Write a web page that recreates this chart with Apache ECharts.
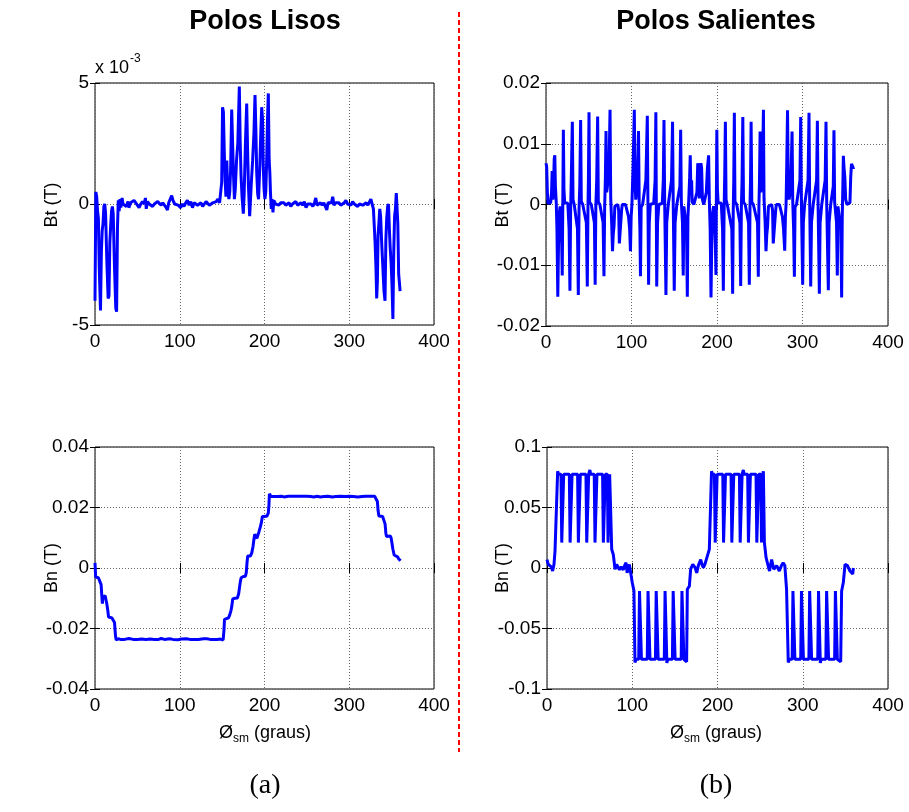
<!DOCTYPE html>
<html><head><meta charset="utf-8">
<script src="https://cdn.jsdelivr.net/npm/echarts@6/dist/echarts.min.js"></script>
<style>html,body{margin:0;padding:0;background:#fff}#c{width:909px;height:812px}</style>
</head><body><div id="c"></div>
<script>
// ---------- DATA ----------
const xTicks = [0, 100, 200, 300, 400];
const titles = ['Polos Lisos', 'Polos Salientes'];
const panelTags = ['(a)', '(b)'];
const yNames = ['Bt (T)', 'Bt (T)', 'Bn (T)', 'Bn (T)'];
const ytTL = [-5, 0, 5];            // x 10^-3
const ytTR = [-0.02, -0.01, 0, 0.01, 0.02];
const ytBL = [-0.04, -0.02, 0, 0.02, 0.04];
const ytBR = [-0.1, -0.05, 0, 0.05, 0.1];

// Bt, polos lisos (units of 10^-3 T)
const btLisos = [
[0,-4.0],[1,0.5],[2,0.3],[3,-0.3],[4,-0.6],[5,-2.6],[6.5,-4.4],[7.5,-2.0],[8.5,-1.1],[9.5,-0.8],[10.5,-0.1],[11.5,0.0],[12.5,-0.4],[14,-2.4],[15.5,-3.9],[16.5,-3.8],[17.5,-1.6],[18.5,-0.9],[19.5,-0.3],[20.5,-0.1],[21.5,-0.4],[23,-2.6],[24.5,-4.3],[25.5,-4.45],[26.5,-1.0],[27.5,0.15],[28.5,-0.3],[29.5,0.2],[30.5,-0.15],[32,0.25],[33,0.0],[35,0.05],[37,-0.1],[39,0.1],[40,-0.15],[42,0.05],[44,0.0],[46,0.15],[48,0.1],[50,-0.05],[52,-0.15],[54,0.0],[56,0.1],[58,0.0],[59.5,0.25],[60.5,-0.2],[62,0.1],[64,0.0],[66,0.05],[68,-0.1],[70,0.0],[72,-0.05],[74,0.1],[76,0.05],[78,-0.05],[80,0.05],[82,0.0],[84,-0.15],[85.5,-0.25],[87,0.05],[89,0.1],[90.5,0.35],[92,0.15],[94,0.0],[96,0.05],[98,-0.05],[100,0.0],[101,-0.15],[103,0.0],[105,-0.1],[107,0.05],[109,0.15],[111,-0.05],[113,0.1],[115,-0.15],[117,0.05],[119,0.1],[121,-0.05],[123,0.0],[125,0.05],[127,-0.1],[129,0.0],[131,0.1],[133,0.05],[135,-0.05],[137,0.0],[139,0.05],[141,0.0],[143,0.1],[145,0.2],[147,0.05],[148.5,0.1],[149.5,0.9],[150.5,4.0],[151.5,3.8],[152.5,2.2],[153.5,1.0],[154.5,0.3],[155.5,1.8],[156.5,0.6],[158,0.2],[159,0.5],[160,1.4],[161.3,3.9],[162.3,2.6],[163.3,1.3],[164.5,0.2],[165.5,0.6],[167,1.8],[168.5,2.5],[170.3,4.85],[171.3,2.6],[172.3,1.2],[173.5,0.3],[175,-0.4],[176,0.4],[177.5,2.5],[179,4.15],[180,2.3],[181,0.8],[182.5,-0.5],[183.5,0.2],[184.5,0.9],[186,1.8],[187.5,2.9],[188.8,4.5],[189.8,3.1],[190.8,1.3],[192,0.4],[193,0.2],[194.5,1.6],[195.7,3.0],[196.7,4.0],[197.7,3.5],[198.5,1.6],[199.5,0.6],[200.5,0.2],[201.5,0.5],[202.5,1.7],[203.5,3.4],[204.5,4.57],[205.5,1.8],[206.3,1.3],[207,0.5],[208,-0.2],[209,0.2],[210,-0.35],[211,0.15],[213,0.0],[215,0.05],[217,-0.05],[219,0.05],[221,0.0],[223,0.05],[225,-0.05],[227,0.0],[229,0.05],[231,-0.1],[233,0.0],[235,0.05],[237,0.1],[239,-0.05],[241,0.0],[243,0.05],[245,-0.05],[247,0.1],[249,-0.15],[251,0.0],[253,0.05],[255,0.0],[257,-0.1],[259,0.05],[260.5,0.25],[262,-0.05],[264,0.0],[266,0.05],[268,-0.05],[270,0.05],[272,0.0],[273.5,-0.25],[275,0.05],[277,0.0],[279,0.05],[280.5,0.3],[282,-0.05],[284,0.05],[286,0.0],[288,0.05],[290,-0.05],[292,0.0],[294,0.05],[296,0.15],[298,0.0],[300,0.05],[302,-0.05],[304,0.1],[306,0.0],[308,0.05],[310,-0.1],[312,0.0],[314,0.05],[316,-0.05],[318,0.0],[320,0.05],[322,-0.05],[324,0.0],[325.5,0.2],[327,0.0],[328.5,-0.2],[329.5,-0.9],[330.5,-1.6],[331.5,-2.6],[332.4,-3.9],[333.2,-3.2],[334,-1.3],[335,-0.8],[336,-0.2],[337,-0.5],[338,-1.4],[339.5,-2.5],[341,-3.6],[342.2,-4.0],[343.2,-1.5],[344.2,-0.6],[345.3,-0.1],[346.3,0.0],[347.3,-1.0],[348.3,-1.8],[349.5,-2.5],[350.5,-3.4],[351.5,-4.75],[352.5,-2.0],[353.5,-0.5],[354.5,-0.2],[355.5,0.45],[356.5,0.4],[357.3,-0.8],[358.3,-2.9],[359.3,-3.3],[360,-3.6]
];

// Bt, polos salientes (T)
const btSal = [
[0,0.0068],[0.8,0.0062],[1.6,0.002],[2.5,0.0002],[4,0],[5.5,0.0003],[6.5,0.002],[7.2,0.0055],[8,0.0008],[8.8,0.003],[9.6,0.0075],[10.3,0.0081],[11,0.003],[12,0.0003],[12.8,-0.004],[13.8,-0.0152],[14.6,-0.007],[15.5,-0.0015],[16.5,-0.0003],[17.5,-0.001],[18.3,-0.006],[19,-0.0117],[19.6,-0.0005],[20.3,0.0123],[21,0.0025],[21.8,0.0003],[23.5,0],[25.5,0.0002],[27,-0.004],[28,-0.0142],[28.8,-0.001],[29.6,0.0045],[30.8,0.0136],[31.6,0.0008],[33,0],[35,0.0002],[36.8,-0.004],[37.8,-0.0149],[38.6,-0.001],[39.5,0.003],[40.5,0.0139],[41.3,0.0005],[43,0],[45,0.0002],[47.2,-0.003],[48.3,-0.0135],[49.1,-0.0005],[49.6,0.004],[50.3,0.0152],[51,0.0004],[53,0],[55,0.0002],[56.6,-0.003],[57.5,-0.0132],[58.3,-0.0003],[59.3,0.004],[60.4,0.0145],[61.2,0.0004],[63,0],[65,0.0002],[66.8,-0.003],[67.8,-0.0118],[68.6,-0.0004],[69.4,0.004],[70.2,0.0121],[71,0.002],[72.2,0.0018],[73.6,0.005],[74.9,0.0156],[75.7,0.001],[76.8,-0.003],[77.8,-0.0077],[78.6,-0.005],[79.6,-0.0035],[80.5,-0.0003],[82,0],[84,0],[85,-0.001],[85.8,-0.0064],[87.6,-0.0064],[88.4,-0.001],[89.2,0],[91,0],[93,0],[95,0],[96.5,-0.002],[97.8,-0.004],[98.8,-0.0077],[99.6,-0.002],[100.5,0],[101.8,0.006],[103.3,0.0156],[104,0.004],[105,0.0008],[106,0.002],[107.2,0.006],[108.2,0.0121],[109,0.0005],[109.8,-0.004],[110.5,-0.0118],[111.3,-0.0004],[113,0],[115,0.0002],[116.8,0.004],[118.5,0.0146],[119.2,0.0005],[120,-0.0132],[120.8,-0.003],[122,0],[124,0],[126,0.0002],[127.6,0.004],[128.5,0.0152],[129,0.0003],[129.5,-0.0135],[130.5,-0.003],[132,0],[134,0],[136,0.0002],[137.2,0.004],[138,0.0139],[138.8,0.0003],[140.3,-0.0149],[141.2,-0.003],[143,0],[145,0],[146.8,0.004],[148,0.0136],[148.8,0.0004],[150,-0.0142],[151,-0.003],[153,0],[155,0],[156.6,0.003],[157.5,0.0123],[158.3,0.0004],[159.6,-0.003],[160.5,-0.0117],[161.3,-0.0003],[162.5,-0.0005],[164.3,-0.004],[165.3,-0.0152],[166,-0.002],[167,0.0008],[168,0.0045],[168.7,0.0081],[169.4,0.0025],[170.3,0.004],[171,0.0004],[173,0],[175,0.0002],[176.5,0.002],[177.5,0.0068],[178.5,0.0066],[179.3,0.001],[180.3,0.004],[181.2,0.0068],[182,0.006],[183,0.0008],[184.5,0],[186,0.0003],[187.5,0.002],[188.8,0.006],[190.2,0.0081],[191,0.0008],[192,-0.004],[193,-0.0153],[193.8,-0.007],[194.8,-0.0015],[196,-0.0003],[197.2,-0.001],[198,-0.006],[198.8,-0.0116],[199.2,-0.0005],[199.8,0.0123],[200.5,0.0025],[201.3,0.0003],[203,0],[205,0.0002],[206.5,-0.004],[207.4,-0.0142],[208.3,-0.001],[209,0.0045],[209.8,0.0136],[210.6,0.0008],[212,0],[214,0.0002],[217.3,-0.004],[218.3,-0.0147],[219,-0.001],[219.6,0.004],[220.3,0.0151],[221,0.0005],[223,0],[225,0.0002],[226.8,-0.003],[227.7,-0.0134],[228.5,-0.0005],[229.3,0.004],[230.2,0.0144],[231,0.0004],[233,0],[235,0.0002],[236.9,-0.003],[237.8,-0.0132],[238.6,-0.0003],[239.2,0.004],[239.9,0.0136],[240.7,0.0004],[242.5,0],[244.5,0.0002],[247.4,-0.003],[248.3,-0.0119],[249,-0.0004],[249.7,0.004],[250.4,0.012],[251.2,0.002],[252.5,0.0018],[253.2,0.005],[254.3,0.0156],[255,0.001],[256.3,-0.003],[257.3,-0.0077],[258.2,-0.005],[259.2,-0.0035],[260.2,-0.0003],[262,0],[264,0],[265,-0.001],[265.8,-0.0064],[267.8,-0.0064],[268.6,-0.001],[269.4,0],[271,0],[273,0],[275,0],[276.5,-0.002],[277.8,-0.004],[279.2,-0.0076],[280,-0.002],[280.8,0],[281.5,0.006],[282.5,0.0155],[283.3,0.004],[284.4,0.0008],[285.5,0.002],[286.8,0.006],[287.8,0.012],[288.6,0.0005],[289.6,-0.004],[290.5,-0.0119],[291.3,-0.0004],[293,0],[295,0.0002],[297,0.004],[297.9,0.0144],[298.7,0.0005],[300.2,-0.0132],[301,-0.003],[302.5,0],[304.5,0],[306.5,0.004],[307.6,0.0151],[308.4,0.0005],[309.6,-0.0135],[310.5,-0.003],[312.5,0],[314.5,0],[316.5,0.004],[317.4,0.0138],[318.2,0.0004],[319.7,-0.0147],[320.6,-0.003],[322.5,0],[324.5,0],[326.5,0.004],[327.5,0.0136],[328.3,0.0004],[330.2,-0.0141],[331.1,-0.003],[333,0],[335,0],[336,0.003],[336.8,0.0122],[337.6,0.0004],[339.8,-0.003],[340.7,-0.0117],[341.5,-0.0003],[342.8,-0.0005],[344.8,-0.004],[345.8,-0.0153],[346.5,-0.002],[347.2,0.003],[347.8,0.008],[348.6,0.006],[349.5,0.0045],[350.5,0.0008],[352,0],[354,0],[355.5,0.0003],[356.4,0.0045],[357.3,0.0067],[358.5,0.0065],[359.5,0.006],[360,0.0061]
];

// Bn, polos lisos (T)
const bnLisos = [
[0,0.0017],[0.8,-0.003],[2,-0.0033],[4,-0.0032],[6,-0.0035],[7.2,-0.0055],[8,-0.009],[8.7,-0.0118],[9.4,-0.0095],[10.5,-0.0095],[12,-0.0092],[13,-0.0096],[14,-0.012],[15,-0.0138],[16,-0.0162],[17.5,-0.0166],[20,-0.0165],[21.8,-0.0166],[23,-0.018],[24.2,-0.0225],[25,-0.0238],[26.4,-0.0242],[27.5,-0.0234],[30,-0.0236],[35,-0.0236],[40,-0.0233],[45,-0.0236],[50,-0.0236],[55,-0.0235],[60,-0.0236],[65,-0.0235],[70,-0.0236],[75,-0.0236],[78,-0.0233],[82,-0.0236],[88,-0.0234],[92,-0.0236],[98,-0.0237],[102,-0.0235],[108,-0.0234],[112,-0.0236],[118,-0.0236],[122,-0.0236],[128,-0.0234],[132,-0.0234],[136,-0.0236],[140,-0.0236],[144,-0.0236],[148,-0.0235],[151.2,-0.0238],[152.2,-0.0205],[152.8,-0.017],[155,-0.0168],[157.5,-0.0165],[159,-0.0155],[160.5,-0.014],[161.5,-0.0125],[162.5,-0.0102],[165,-0.0100],[168,-0.0099],[169.5,-0.0085],[170.5,-0.0065],[171.5,-0.0045],[172.5,-0.0032],[175,-0.0028],[177.5,-0.0027],[178.5,-0.0015],[179.3,0.0015],[180.2,0.004],[182,0.0037],[183.5,0.004],[185,0.005],[186.5,0.0072],[187.5,0.0095],[188.5,0.0112],[189.5,0.0105],[191,0.0098],[192.5,0.0102],[193.5,0.012],[195,0.0135],[196.3,0.015],[197.5,0.017],[200,0.017],[203,0.0172],[204.5,0.0182],[205.2,0.0205],[205.8,0.0245],[206.8,0.0242],[207.8,0.0236],[210,0.0237],[215,0.0236],[220,0.0237],[223,0.0235],[228,0.0237],[235,0.0237],[240,0.0237],[245,0.0237],[250,0.0237],[255,0.0236],[258,0.0235],[262,0.0237],[266,0.0235],[270,0.0236],[275,0.0237],[280,0.0235],[284,0.0236],[290,0.0237],[295,0.0236],[300,0.0237],[305,0.0236],[310,0.0235],[315,0.0236],[320,0.0237],[325,0.0237],[330,0.0237],[332,0.0241],[333.2,0.022],[334,0.019],[335,0.0172],[337,0.017],[339.5,0.017],[341,0.0167],[342.3,0.0145],[343.2,0.0115],[344,0.0104],[346,0.0108],[348.5,0.0106],[349.5,0.0098],[350.5,0.008],[351.5,0.0062],[353,0.0043],[355,0.0038],[357,0.0037],[358.5,0.003],[360.5,0.0024]
];

// Bn, polos salientes (T)
const bnSal = [
[0,0.007],[1.5,0.003],[3.5,0.0028],[5,0.001],[6.6,-0.0025],[8.2,0.003],[9.4,0.014],[11.3,0.0155],[12.5,0.080],[13.5,0.0775],
[16.4,0.0775],[17.3,0.021],[18.3,0.021],[19.6,0.0775],
[26.2,0.0775],[27.1,0.021],[28.1,0.021],[29.4,0.0775],
[35.9,0.0775],[36.8,0.021],[37.8,0.021],[39.1,0.0775],
[45.7,0.0775],[46.6,0.021],[47.6,0.021],[48.9,0.0775],[50.3,0.081],[51.3,0.0775],
[55.4,0.0775],[56.3,0.021],[57.3,0.021],[58.6,0.0775],
[65.2,0.0775],[66.1,0.021],[67.1,0.021],[68.4,0.0775],
[70.8,0.0775],[71.6,0.021],[72.5,0.021],[73.5,0.0775],[74.7,0.079],
[75.9,0.0155],[77.8,0.011],[79.8,-0.001],[81.7,0.003],[83.5,0.0035],[85,-0.0015],[87,0.001],[89.5,-0.0015],[91,0.002],[92.7,0.0045],[94,-0.004],[96.6,0.003],[98.5,0.0015],[100,-0.012],[102,-0.019],[103.2,-0.078],[104.5,-0.0755],
[107.6,-0.0755],[108.5,-0.019],[109.5,-0.019],[110.8,-0.0755],
[117.6,-0.0755],[118.5,-0.019],[119.5,-0.019],[120.8,-0.0755],
[127.2,-0.0755],[128.1,-0.019],[129.1,-0.019],[130.4,-0.0755],
[137.6,-0.0755],[138.5,-0.019],[139.5,-0.019],[140.6,-0.0785],[141.6,-0.0755],
[147.1,-0.0755],[148,-0.019],[149,-0.019],[150.3,-0.0755],
[157.4,-0.0755],[158.3,-0.019],[159.3,-0.019],[160.6,-0.0755],
[163.8,-0.0775],[164.6,-0.0176],[167,-0.015],[168.5,-0.001],[171,0.003],[173.6,0.0005],[175.6,-0.004],[177.5,0.002],[180.3,0.007],[181.8,0.003],[183.4,0.0003],[185.2,0.003],[187.3,0.0044],[190.4,0.0154],[193,0.080],[194,0.0775],
[196.4,0.0775],[197.3,0.021],[198.3,0.021],[199.6,0.0775],
[206.2,0.0775],[207.1,0.021],[208.1,0.021],[209.4,0.0775],
[215.9,0.0775],[216.8,0.021],[217.8,0.021],[219.1,0.0775],
[225.7,0.0775],[226.6,0.021],[227.6,0.021],[228.9,0.0775],[230.3,0.081],[231.3,0.0775],
[235.4,0.0775],[236.3,0.021],[237.3,0.021],[238.6,0.0775],
[245.2,0.0775],[246.1,0.021],[247.1,0.021],[248.4,0.0775],
[250.8,0.0775],[251.6,0.021],[252.5,0.021],[253.3,0.0775],[253.8,0.080],
[255,0.021],[257,0.0085],[259,0.003],[261,-0.0025],[263.5,0.007],[266,-0.001],[269.4,0.002],[272.5,-0.0025],[275,0.002],[277,0.0044],[279,0.002],[281,-0.0176],[283,-0.078],[284.3,-0.0755],
[287.6,-0.0755],[288.5,-0.019],[289.5,-0.019],[290.8,-0.0755],
[297.6,-0.0755],[298.5,-0.019],[299.5,-0.019],[300.8,-0.0755],
[307.2,-0.0755],[308.1,-0.019],[309.1,-0.019],[310.4,-0.0755],
[317.6,-0.0755],[318.5,-0.019],[319.5,-0.019],[320.6,-0.0785],[321.6,-0.0755],
[327.1,-0.0755],[328,-0.019],[329,-0.019],[330.3,-0.0755],
[337.4,-0.0755],[338.3,-0.019],[339.3,-0.019],[340.6,-0.0755],
[344.5,-0.0775],[345.6,-0.019],[347.6,-0.012],[349.6,0.003],[350.7,0.0044],[352.5,0.002],[355.4,-0.0025],[357.4,-0.001],[358.6,-0.005],[359.4,0.0]
];

// ---------- CHART ----------
const FONT = '"Liberation Sans", Arial, sans-serif';
const panels = [
  {rect:{left:95, top:83, width:339, height:242}, yt:ytTL, data:btLisos},
  {rect:{left:546, top:83, width:342, height:243}, yt:ytTR, data:btSal},
  {rect:{left:95, top:447, width:339, height:242}, yt:ytBL, data:bnLisos},
  {rect:{left:547, top:447, width:341, height:242}, yt:ytBR, data:bnSal}
];
const grid = [], xAxis = [], yAxis = [], series = [];
panels.forEach((p, i) => {
  grid.push(Object.assign({show:true, borderColor:'#000', borderWidth:1, backgroundColor:'#fff', containLabel:false}, p.rect));
  const tick = {show:true, inside:true, length:5, lineStyle:{color:'#000', width:1}};
  const split = {show:true, lineStyle:{type:[1,2], color:'#666', width:1}};
  const xmin = xTicks[0], xmax = xTicks[xTicks.length-1], xint = xTicks[1]-xTicks[0];
  const ymin = p.yt[0], ymax = p.yt[p.yt.length-1], yint = p.yt[1]-p.yt[0];
  xAxis.push({gridIndex:i, type:'value', min:xmin, max:xmax, interval:xint, position:'bottom',
    axisLine:{show:false}, axisTick:tick, splitLine:split,
    axisLabel:{show:true, fontSize:19, color:'#000', fontFamily:FONT, margin:7,
      formatter: v => String(v)}});
  xAxis.push({gridIndex:i, type:'value', min:xmin, max:xmax, interval:xint, position:'top',
    axisLine:{show:false}, axisTick:tick, splitLine:{show:false}, axisLabel:{show:false}});
  yAxis.push({gridIndex:i, type:'value', min:ymin, max:ymax, interval:yint, position:'left',
    axisLine:{show:false}, axisTick:tick, splitLine:split,
    axisLabel:{show:true, fontSize:19, color:'#000', fontFamily:FONT, margin:6,
      formatter: v => String(Math.round(v*1000)/1000)}});
  yAxis.push({gridIndex:i, type:'value', min:ymin, max:ymax, interval:yint, position:'right',
    axisLine:{show:false}, axisTick:tick, splitLine:{show:false}, axisLabel:{show:false}});
  series.push({type:'line', xAxisIndex:2*i, yAxisIndex:2*i, data:p.data, symbol:'none', showSymbol:false,
    lineStyle:{color:'#0000ff', width:3}, animation:false, silent:true, z:3});
});

// text helpers
const cv = document.createElement('canvas').getContext('2d');
function tw(text, font){ cv.font = font; return cv.measureText(text).width; }
function txt(text, x, y, font, align, extra){
  return Object.assign({type:'text', x:x, y:y, silent:true, z:10,
    style:{text:text, x:0, y:0, font:font, fill:'#000', align:align||'center', verticalAlign:'middle',
      textAlign:align||'center', textVerticalAlign:'middle'}}, extra||{});
}
const graphic = [];
const fTitle = 'bold 27px ' + FONT;
const fTag = '28px "Liberation Serif", "Times New Roman", serif';
const fLab = '18px ' + FONT;
const fSub = '12px ' + FONT;
const colCenters = [265, 716];
colCenters.forEach((cx, j) => {
  graphic.push(txt(titles[j], cx, 22, fTitle));
  graphic.push(txt(panelTags[j], cx, 786, fTag));
  // x axis name: Ø_sm (graus)
  const a = 'Ø', s = 'sm', b = ' (graus)';
  const wa = tw(a, fLab), ws = tw(s, fSub), wb = tw(b, fLab);
  const x0 = cx - (wa + ws + wb) / 2;
  graphic.push(txt(a, x0, 733, fLab, 'left'));
  graphic.push(txt(s, x0 + wa, 739, fSub, 'left'));
  graphic.push(txt(b, x0 + wa + ws, 733, fLab, 'left'));
});
// y axis names
[[52,205],[503,205],[52,568],[503,568]].forEach((pos, i) => {
  graphic.push(txt(yNames[i], pos[0], pos[1], fLab, 'center', {rotation: Math.PI/2}));
});
// exponent label
const wx = tw('x 10', fLab);
graphic.push(txt('x 10', 95, 68, fLab, 'left'));
graphic.push(txt('-3', 95 + wx + 1, 59, fSub, 'left'));
// red dashed separator
graphic.push({type:'line', silent:true, z:10, shape:{x1:459, y1:12, x2:459, y2:752},
  style:{stroke:'#ff0000', lineWidth:2, lineDash:[5,3]}});

const chart = echarts.init(document.getElementById('c'), null, {renderer:'canvas', width:909, height:812});
chart.setOption({animation:false, backgroundColor:'#fff', grid, xAxis, yAxis, series, graphic});
</script>
</body></html>
